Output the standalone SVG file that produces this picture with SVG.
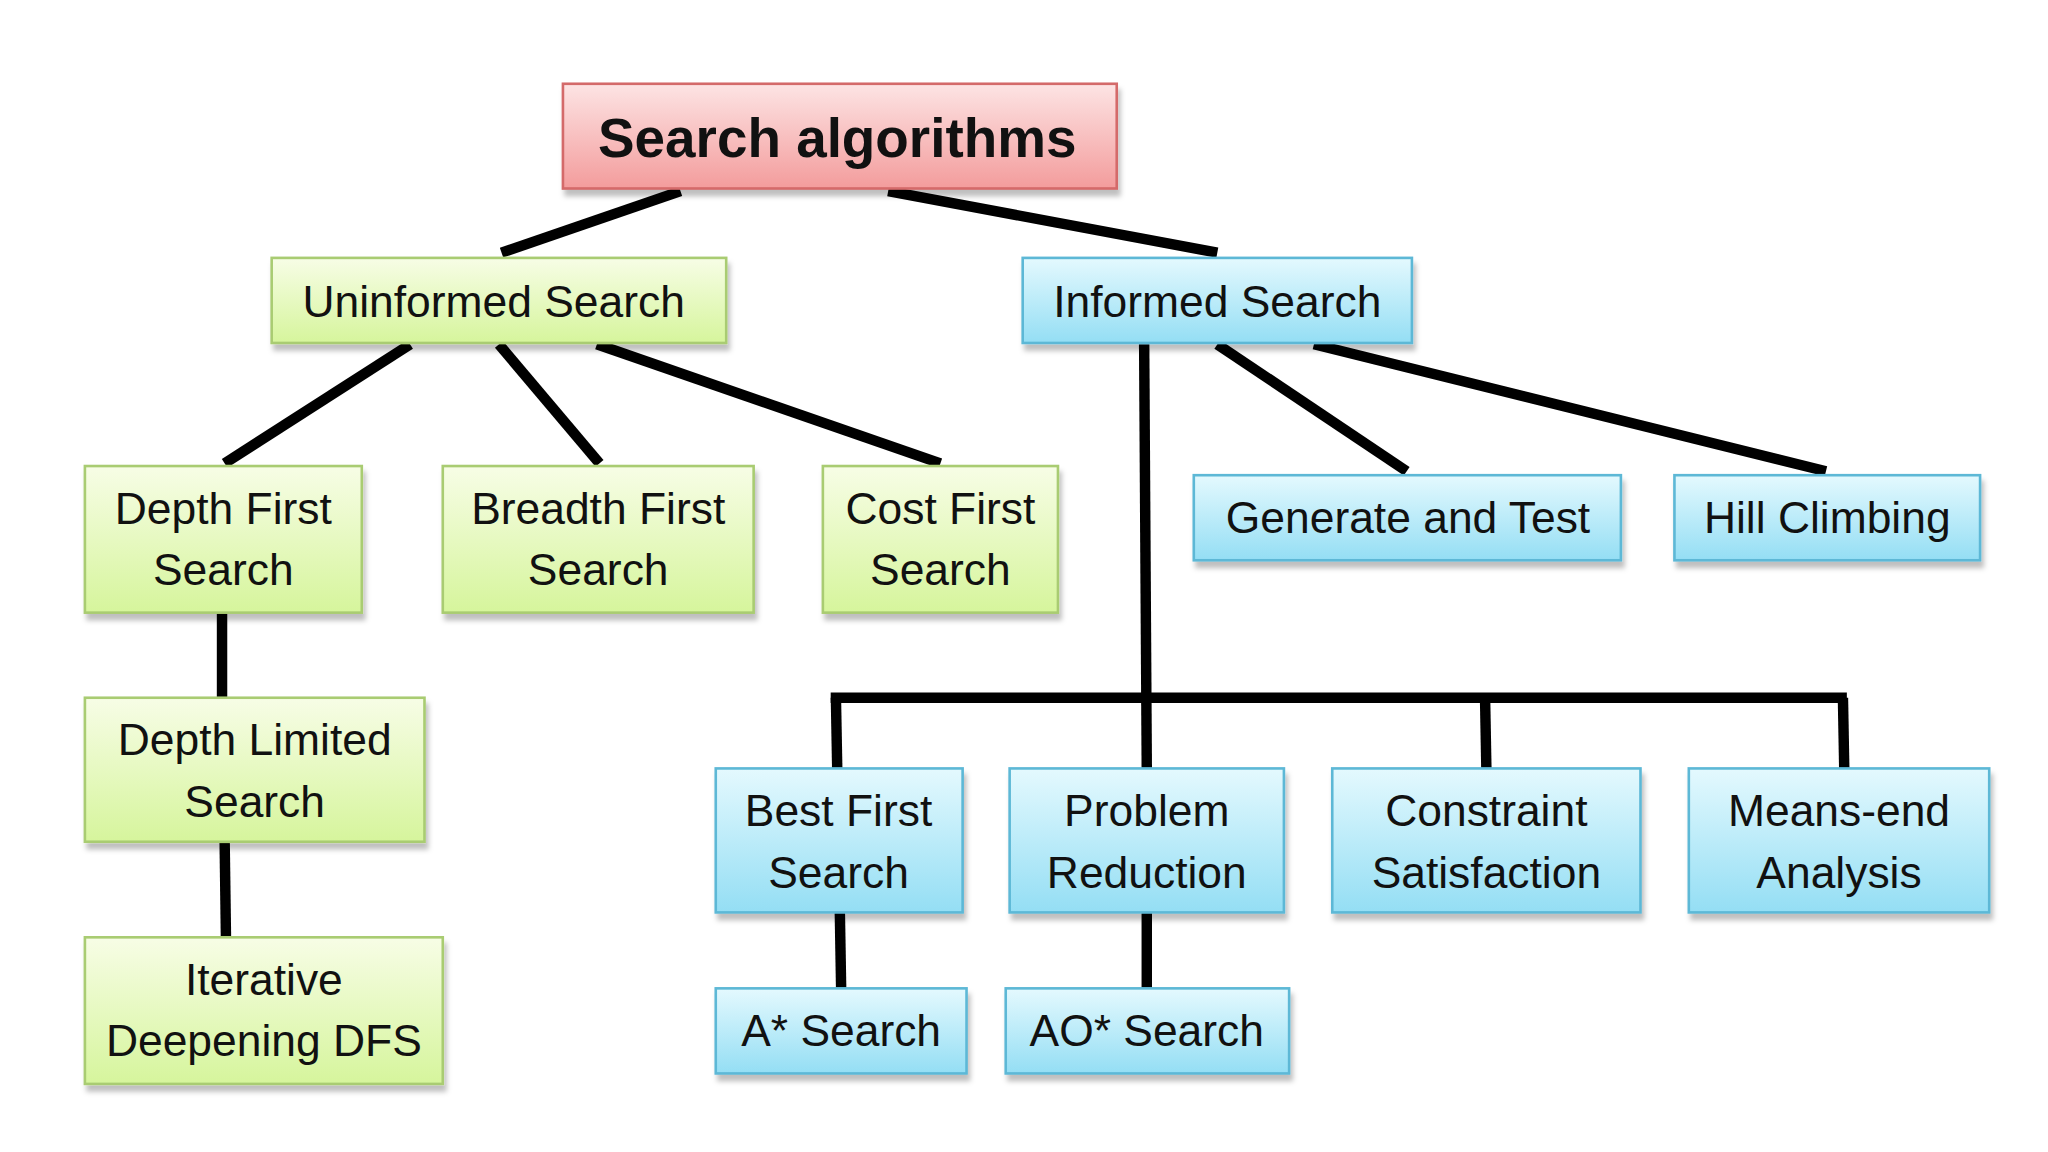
<svg xmlns="http://www.w3.org/2000/svg" width="2048" height="1152" viewBox="0 0 2048 1152">
<defs>
<linearGradient id="gr" x1="0" y1="0" x2="0" y2="1"><stop offset="0" stop-color="#fde4e4"/><stop offset="1" stop-color="#f39c9c"/></linearGradient>
<linearGradient id="gg" x1="0" y1="0" x2="0" y2="1"><stop offset="0" stop-color="#f7fde6"/><stop offset="1" stop-color="#d6f59c"/></linearGradient>
<linearGradient id="gb" x1="0" y1="0" x2="0" y2="1"><stop offset="0" stop-color="#e4f9fe"/><stop offset="1" stop-color="#94def4"/></linearGradient>
<filter id="sh" x="-10%" y="-10%" width="130%" height="140%"><feDropShadow dx="2" dy="5" stdDeviation="2" flood-color="#000" flood-opacity="0.25"/></filter>
<style>
.r{fill:url(#gr);stroke:#d46a6a;stroke-width:2;filter:url(#sh)}
.g{fill:url(#gg);stroke:#a9cc72;stroke-width:2;filter:url(#sh)}
.b{fill:url(#gb);stroke:#5db8d6;stroke-width:2;filter:url(#sh)}
text{font-family:"Liberation Sans",Arial,sans-serif;font-size:34px;fill:#111;text-anchor:middle}
.t{font-size:42px;font-weight:bold}
#edges line{stroke:#000;stroke-width:8;stroke-linecap:butt}
</style>
</defs>
<rect width="2048" height="1152" fill="#fff"/>
<g transform="scale(1.30612,1.30909)">
<g id="edges">
<line x1="521" y1="146" x2="384" y2="193"/>
<line x1="680" y1="146" x2="932" y2="193"/>
<line x1="314" y1="263" x2="172" y2="354"/>
<line x1="382" y1="263" x2="459" y2="354"/>
<line x1="457" y1="263" x2="720" y2="354"/>
<line x1="876" y1="263" x2="878" y2="587"/>
<line x1="932" y1="263" x2="1077" y2="360"/>
<line x1="1006" y1="263" x2="1398" y2="360"/>
<line x1="636" y1="533" x2="1414" y2="533"/>
<line x1="640" y1="533" x2="641" y2="587"/>
<line x1="1137" y1="533" x2="1138" y2="587"/>
<line x1="1411" y1="533" x2="1412" y2="587"/>
<line x1="170" y1="468" x2="170" y2="533"/>
<line x1="172" y1="643" x2="173" y2="716"/>
<line x1="643" y1="697" x2="644" y2="755"/>
<line x1="878" y1="697" x2="878" y2="755"/>
</g>
<g id="root"><rect class="r" x="431" y="64" width="424" height="80"/><text class="t" x="641" y="120">Search algorithms</text></g>
<g id="uninformed"><rect class="g" x="208" y="197" width="348" height="65"/><text x="378" y="242">Uninformed Search</text></g>
<g id="informed"><rect class="b" x="783" y="197" width="298" height="65"/><text x="932" y="242">Informed Search</text></g>
<g id="dfs"><rect class="g" x="65" y="356" width="212" height="112"/><text x="171" y="400">Depth First</text><text x="171" y="447">Search</text></g>
<g id="bfs"><rect class="g" x="339" y="356" width="238" height="112"/><text x="458" y="400">Breadth First</text><text x="458" y="447">Search</text></g>
<g id="cfs"><rect class="g" x="630" y="356" width="180" height="112"/><text x="720" y="400">Cost First</text><text x="720" y="447">Search</text></g>
<g id="gat"><rect class="b" x="914" y="363" width="327" height="65"/><text x="1078" y="407">Generate and Test</text></g>
<g id="hill"><rect class="b" x="1282" y="363" width="234" height="65"/><text x="1399" y="407">Hill Climbing</text></g>
<g id="dls"><rect class="g" x="65" y="533" width="260" height="110"/><text x="195" y="577">Depth Limited</text><text x="195" y="624">Search</text></g>
<g id="iddfs"><rect class="g" x="65" y="716" width="274" height="112"/><text x="202" y="760">Iterative</text><text x="202" y="807">Deepening DFS</text></g>
<g id="best"><rect class="b" x="548" y="587" width="189" height="110"/><text x="642" y="631">Best First</text><text x="642" y="678">Search</text></g>
<g id="prob"><rect class="b" x="773" y="587" width="210" height="110"/><text x="878" y="631">Problem</text><text x="878" y="678">Reduction</text></g>
<g id="csp"><rect class="b" x="1020" y="587" width="236" height="110"/><text x="1138" y="631">Constraint</text><text x="1138" y="678">Satisfaction</text></g>
<g id="mea"><rect class="b" x="1293" y="587" width="230" height="110"/><text x="1408" y="631">Means-end</text><text x="1408" y="678">Analysis</text></g>
<g id="astar"><rect class="b" x="548" y="755" width="192" height="65"/><text x="644" y="799">A* Search</text></g>
<g id="aostar"><rect class="b" x="770" y="755" width="217" height="65"/><text x="878" y="799">AO* Search</text></g>
</g>
</svg>
